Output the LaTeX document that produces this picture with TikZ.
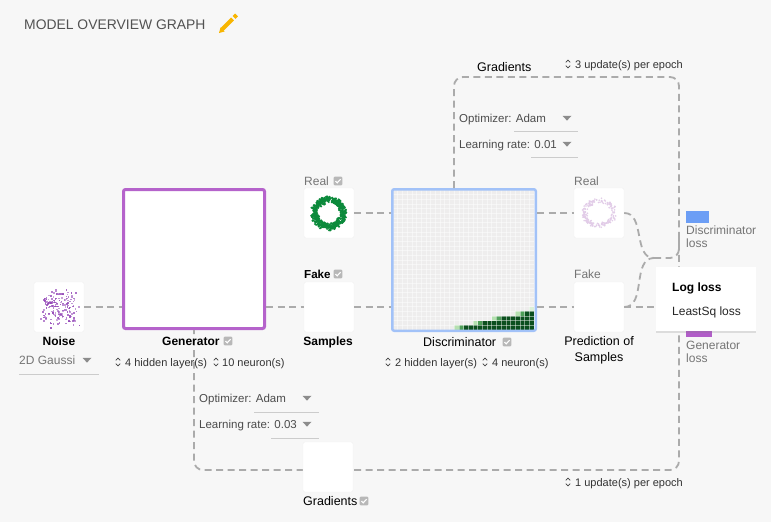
\documentclass[tikz,border=0pt]{standalone}
\usepackage{fontspec}
\setmainfont{Liberation Sans}
\usetikzlibrary{positioning,shadows,calc}
\definecolor{bg}{HTML}{F7F7F7}
\definecolor{txtgray}{HTML}{757575}
\definecolor{linkgray}{HTML}{ABABAB}
\definecolor{genpurple}{HTML}{B563CB}
\definecolor{discblue}{HTML}{A2C2F8}
\definecolor{lossblue}{HTML}{6C9EF5}
\definecolor{losspurple}{HTML}{B15DC8}
\definecolor{noisepurple}{HTML}{9448B8}
\definecolor{realgreen}{HTML}{0B8A3B}
\definecolor{predpink}{HTML}{E2CCE8}
\definecolor{darkgreen}{HTML}{0B4F1E}
\definecolor{midgreen}{HTML}{4E9E58}
\definecolor{lightgreen}{HTML}{B5E0B0}
\definecolor{heatbg}{HTML}{EEEDED}
\definecolor{pencil}{HTML}{F8B500}
\tikzset{
  box/.style={draw=black!6, fill=white, rounded corners=2pt, minimum size=50, inner sep=0},
  link/.style={draw=linkgray, line width=1.8, dash pattern=on 7pt off 4.5pt},
  lbl/.style={font=\fontsize{12}{14}\selectfont\bfseries, inner sep=0},
  plain/.style={font=\fontsize{12.5}{14.5}\selectfont, inner sep=0},
  dim/.style={text=txtgray, font=\fontsize{12}{13.5}\selectfont, inner sep=0, align=left},
  small/.style={font=\fontsize{11}{12}\selectfont, inner sep=0, text=black!80},
  opt/.style={font=\fontsize{11.5}{12}\selectfont, inner sep=0, text=black!70},
  underline/.style={draw=black!20, line width=0.8},
  chkbox/.pic={
    \fill[black!28, rounded corners=1pt] (-4.3,-4.3) rectangle (4.3,4.3);
    \draw[white, line width=1.1] (-2.5,0) -- (-0.8,1.8) -- (2.6,-1.8);
  },
  spin/.pic={
    \draw[black!75, line width=0.7] (-2.2,-1.6) -- (0,-3.9) -- (2.2,-1.6);
    \draw[black!75, line width=0.7] (-2.2,1.6) -- (0,3.9) -- (2.2,1.6);
  },
  dropdown/.pic={
    \fill[black!45] (-4.5,-2.2) -- (4.5,-2.2) -- (0,2.6) -- cycle;
  }
}
\begin{document}
\begin{tikzpicture}[x=1pt, y=-1pt]
  \fill[bg] (0,0) rectangle (771,522);
  \useasboundingbox (0,0) rectangle (771,522);

  % title
  \node[anchor=base west, inner sep=0, text=black!68, font=\fontsize{13.9}{15}\selectfont] (title) at (24,29) {MODEL OVERVIEW GRAPH};
  \fill[pencil] (219,33) -- (220.5,27.5) -- (224.5,31.5) -- cycle;
  \draw[pencil, line width=4.2] (222,29.5) -- (232.5,19);
  \draw[pencil, line width=4.2] (234,17.5) -- (236.5,15);

  % discriminator heatmap
  \begin{scope}[shift={(393,190)}]
    \fill[heatbg] (0,0) rectangle (141,140);
    \foreach \r/\first in {29/15, 28/19, 27/23, 26/28}
      \foreach \c in {\first,...,29}
        \fill[darkgreen] (\c*4.7,\r*4.667) rectangle ++(4.7,4.667);
    \foreach \r/\c/\col in {29/13/lightgreen, 29/14/midgreen, 28/17/lightgreen, 28/18/midgreen,
                           27/21/lightgreen, 27/22/midgreen, 26/26/lightgreen, 26/27/midgreen, 25/29/lightgreen!50}
      \fill[\col] (\c*4.7,\r*4.667) rectangle ++(4.7,4.667);
    \foreach \i in {1,...,29} {
      \draw[white, opacity=0.45, line width=0.5] (\i*4.7,0) -- (\i*4.7,140);
      \draw[white, opacity=0.45, line width=0.5] (0,\i*4.667) -- (141,\i*4.667);
    }
  \end{scope}

  % main nodes
  \node[box] (noise) at (59,307) {};
  \node[draw=genpurple, fill=white, line width=3, rounded corners=2pt, minimum width=141, minimum height=139, inner sep=0] (gen) at (194,259) {};
  \node[box] (real) at (329,213) {};
  \node[box] (fake) at (329,307) {};
  \node[draw=discblue, line width=2.5, rounded corners=2pt, minimum width=143.5, minimum height=141.5, inner sep=0] (disc) at (464,260) {};
  \node[box] (predreal) at (599,213) {};
  \node[box] (predfake) at (599,307) {};

  % loop corners
  \coordinate (tl) at (454,77);
  \coordinate (tr) at (679,77);
  \coordinate (br) at (679,470);
  \coordinate (bl) at (194,470);
  \coordinate (merge) at (654,258);

  % connectors
  \draw[link] (noise.east) -- (noise.east -| gen.west);
  \draw[link] (fake.west -| gen.east) -- (fake.west);
  \draw[link] (real.east) -- (real.east -| disc.west);
  \draw[link] (fake.east) -- (fake.east -| disc.west);
  \draw[link] (predreal.west -| disc.east) -- (predreal.west);
  \draw[link] (predfake.west -| disc.east) -- (predfake.west);
  \draw[link] (predreal.east) to[out=0, in=180] (merge);
  \draw[link] (predfake.east) to[out=0, in=180] (merge);
  \draw[link] (predfake.east) -- (predfake.east -| tr);
  \draw[link, rounded corners=9] (merge) -- (merge -| tr) -- ++(0,-20);
  \draw[link, rounded corners=9] (tl |- disc.north) -- (tl) -- (tr) -- (br) -- (bl) -- (bl |- gen.south);

  % noise samples
  \pgfmathsetseed{11}
  \foreach \i in {1,...,175} {
    \pgfmathsetmacro\dx{(0.3*(rnd+rnd-1)+0.7*(2*rnd-1))*22}
    \pgfmathsetmacro\dy{(0.3*(rnd+rnd-1)+0.7*(2*rnd-1))*22}
    \pgfmathsetmacro\op{0.45+0.45*rnd}
    \fill[noisepurple, opacity=\op] ($(noise)+(\dx,\dy)$) rectangle ++(1.6,1.6);
  }
  % real ring
  \foreach \i in {1,...,520} {
    \pgfmathsetmacro\a{rnd*360}
    \pgfmathsetmacro\rr{13.5+(rnd+rnd-1)*4}
    \fill[realgreen] ($(real)+({1.06*\rr*cos(\a)},{\rr*sin(\a)})$) circle (1.2);
  }
  % predicted real ring
  \foreach \i in {1,...,190} {
    \pgfmathsetmacro\a{rnd*360}
    \pgfmathsetmacro\rr{13+(rnd+rnd-1)*3}
    \fill[predpink] ($(predreal)+({1.15*\rr*cos(\a)},{0.95*\rr*sin(\a)})$) circle (0.9);
  }

  % gradients box over the loop
  \node[box] (gradbox) at (328,467) {};

  % labels
  \node[lbl, anchor=base] (noiselbl) at (59,345) {Noise};
  \node[dim, anchor=base west] (noisedist) at (19,364) {2D Gaussi};
  \pic at (87,360) {dropdown};
  \draw[underline] (19,374) -- (99,374);

  \node[lbl, anchor=base west] (genlbl) at (162,345) {Generator};
  \pic at (228,341) {chkbox};
  \pic at (118,362) {spin};
  \node[small, anchor=base west] (genlayers) at (125,366) {4 hidden layer(s)};
  \pic at (216,362) {spin};
  \node[small, anchor=base west] (genneurons) at (222,366) {10 neuron(s)};

  \node[dim, anchor=base west] (reallbl) at (304,185) {Real};
  \pic at (338,181) {chkbox};
  \node[lbl, anchor=base west, font=\fontsize{11.6}{14}\selectfont\bfseries] (fakelbl) at (304,278) {Fake};
  \pic at (338,274) {chkbox};
  \node[lbl, anchor=base] (samplbl) at (328,345) {Samples};

  \node[plain, anchor=base west] (disclbl) at (423,346) {Discriminator};
  \pic at (507,342) {chkbox};
  \pic at (388,362) {spin};
  \node[small, anchor=base west] (disclayers) at (395,366) {2 hidden layer(s)};
  \pic at (485,362) {spin};
  \node[small, anchor=base west] (discneurons) at (492,366) {4 neuron(s)};

  \node[dim, anchor=base west] (predreallbl) at (574,185) {Real};
  \node[dim, anchor=base west] (predfakelbl) at (574,278) {Fake};
  \node[plain, anchor=north, align=center, font=\fontsize{12.5}{16}\selectfont] (predlbl) at (599,336) {Prediction of\\Samples};

  % discriminator optimizer
  \node[plain, anchor=base west] (dgradlbl) at (477,71) {Gradients};
  \pic at (568,64) {spin};
  \node[small, anchor=base west] (dupd) at (575,68) {3 update(s) per epoch};
  \node[opt, anchor=base west] (dopt) at (459,122) {Optimizer: Adam};
  \pic at (567,118) {dropdown};
  \draw[underline] (514,131) -- (578,131);
  \node[opt, anchor=base west] (dlr) at (459,148) {Learning rate: 0.01};
  \pic at (567,144) {dropdown};
  \draw[underline] (531,157) -- (578,157);

  % generator optimizer
  \node[opt, anchor=base west] (gopt) at (199,402) {Optimizer: Adam};
  \pic at (307,398) {dropdown};
  \draw[underline] (254,412) -- (319,412);
  \node[opt, anchor=base west] (glr) at (199,428) {Learning rate: 0.03};
  \pic at (307,424) {dropdown};
  \draw[underline] (271,438) -- (319,438);
  \node[plain, anchor=base west] (ggradlbl) at (303,505) {Gradients};
  \pic at (364,501) {chkbox};
  \pic at (568,482) {spin};
  \node[small, anchor=base west] (gupd) at (575,486) {1 update(s) per epoch};

  % losses
  \fill[lossblue] (686,211) rectangle (709,223);
  \node[dim, anchor=north west, font=\fontsize{12}{12.5}\selectfont] (dloss) at (686,226) {Discriminator\\loss};
  \fill[losspurple] (686,326) rectangle (712,337);
  \node[dim, anchor=north west, font=\fontsize{12}{12.5}\selectfont] (gloss) at (686,341) {Generator\\loss};

  % loss menu
  \node[fill=white, drop shadow={opacity=0.22, shadow xshift=0pt, shadow yshift=-1.5pt}, minimum width=100, minimum height=64, inner sep=0] (menu) at (706,299) {};
  \node[lbl, anchor=base west] (logloss) at (672,291) {Log loss};
  \node[dim, text=black!85, anchor=base west] (lsqloss) at (672,315) {LeastSq loss};
\end{tikzpicture}
\end{document}
